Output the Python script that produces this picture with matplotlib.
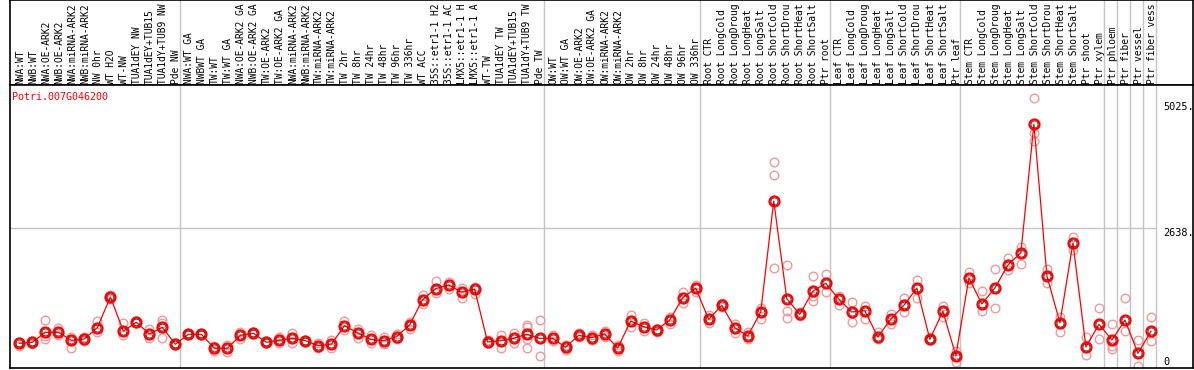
import matplotlib
matplotlib.use("Agg")
import matplotlib.pyplot as plt

gene = "Potri.007G046200"

labels = ["NWA:WT", "NWB:WT", "NWA:OE-ARK2", "NWB:OE-ARK2", "NWA:miRNA-ARK2", "NWB:miRNA-ARK2",
          "NW 0hr", "WT H2O", "WT-NW", "TUA1dEY NW", "TUA1dEY+TUB15", "TUA1dY+TUB9 NW", "Pde NW",
          "NWA:WT GA", "NWBWT GA", "TW:WT", "TW:WT GA", "NWA:OE-ARK2 GA", "NWB:OE-ARK2 GA",
          "TW:OE-ARK2", "TW:OE-ARK2 GA", "NWA:miRNA-ARK2", "NWB:miRNA-ARK2", "TW:miRNA-ARK2",
          "TW:miRNA-ARK2", "TW 2hr", "TW 8hr", "TW 24hr", "TW 48hr", "TW 96hr", "TW 336hr", "WT ACC",
          "35S::etr1-1 H2", "35S::etr1-1 AC", "LMX5::etr1-1 H", "LMX5::etr1-1 A", "WT-TW",
          "TUA1dEY TW", "TUA1dEY+TUB15", "TUA1dY+TUB9 TW", "Pde TW",
          "OW:WT", "OW:WT GA", "OW:OE-ARK2", "OW:OE-ARK2 GA", "OW:miRNA-ARK2", "OW:miRNA-ARK2",
          "OW 2hr", "OW 8hr", "OW 24hr", "OW 48hr", "OW 96hr", "OW 336hr",
          "Root CTR", "Root LongCold", "Root LongDroug", "Root LongHeat", "Root LongSalt",
          "Root ShortCold", "Root ShortDrou", "Root ShortHeat", "Root ShortSalt", "Ptr root",
          "Leaf CTR", "Leaf LongCold", "Leaf LongDroug", "Leaf LongHeat", "Leaf LongSalt",
          "Leaf ShortCold", "Leaf ShortDrou", "Leaf ShortHeat", "Leaf ShortSalt", "Ptr leaf",
          "Stem CTR", "Stem LongCold", "Stem LongDroug", "Stem LongHeat", "Stem LongSalt",
          "Stem ShortCold", "Stem ShortDrou", "Stem ShortHeat", "Stem ShortSalt", "Ptr shoot",
          "Ptr xylem", "Ptr phloem", "Ptr fiber", "Ptr vessel", "Ptr fiber vess"]

# mean expression per sample
means = [458, 477, 666, 666, 514, 539, 753, 1333, 690, 855, 633, 760, 439,
         628, 628, 363, 363, 609, 647, 477, 514, 552, 507, 412, 444, 790, 658, 533, 507, 582,
         804, 1282, 1490, 1560, 1428, 1484, 482, 507, 552, 628, 552,
         552, 382, 609, 564, 633, 369, 879, 772, 709, 898, 1320, 1498,
         911, 1176, 753, 596, 1050, 3149, 1301, 1006, 1441, 1592,
         1295, 1050, 1074, 577, 917, 1176, 1503, 533, 1063, 223,
         1692, 1201, 1503, 1938, 2171, 4599, 1730, 847, 2354, 388,
         817, 520, 898, 269, 685]

# individual replicates per sample
reps = [[482, 407], [444, 501], [893, 533, 596], [753, 609], [582, 374], [577, 501],
        [879, 677], [1377, 1301], [847, 615], [874, 836], [734, 558], [893, 836, 552], [463, 425],
        [647, 609], [647, 609], [407, 318], [425, 293], [671, 539], [662, 633], [492, 463],
        [582, 458], [658, 469], [526, 488], [458, 363], [520, 363], [885, 709], [728, 558],
        [620, 458], [582, 444], [633, 539], [866, 722], [1371, 1195], [1636, 1409], [1617, 1490],
        [1503, 1314], [1528, 1390], [511, 454], [615, 363], [652, 458], [809, 760, 533, 374],
        [893, 212],
        [620, 501], [425, 331], [652, 577], [615, 520], [690, 577], [425, 312], [993, 772],
        [847, 696], [734, 671], [949, 823], [1428, 1220], [1560, 1428],
        [993, 847], [1225, 1138], [817, 658], [677, 533], [1125, 923], [3880, 3635, 1876],
        [1938, 1068, 930], [1050, 974], [1730, 1352, 1263], [1768, 1422],
        [1358, 1182], [1239, 866], [1163, 911], [677, 533], [1006, 823], [1309, 1055],
        [1655, 1309], [548, 511], [1163, 961], [312, 98],
        [1812, 1592], [1452, 1068], [1857, 1131], [2065, 1844], [2284, 1957],
        [5091, 4429, 4283], [1857, 1592], [961, 671], [2473, 2222], [577, 236],
        [1119, 539], [817, 407, 344], [1309, 690], [520, 34], [955, 501]]

# last sample index of each group (vertical separators)
group_ends = [12, 40, 52, 62, 72, 83, 84, 85, 86, 87]
y_ticks = [5025, 2638]

mono = "DejaVu Sans Mono"
W, H = 1194, 370
fig = plt.figure(figsize=(W / 100, H / 100), dpi=100)

x0, x1 = -0.715, 90.23
ax_h = fig.add_axes([10 / W, (H - 85) / H, 1183 / W, 85 / H])
ax = fig.add_axes([10 / W, 1.7 / H, 1183 / W, 283.3 / H])

for a in (ax_h, ax):
    a.set_xlim(x0, x1)
    a.set_xticks([])
    a.set_yticks([])
    for s in a.spines.values():
        s.set_color("black")
        s.set_linewidth(1.2)
    for g in group_ends:
        a.axvline(g + 0.35, color="#c4c4c4", lw=1.0, zorder=0)

ax_h.set_ylim(0, 85)
for i, lab in enumerate(labels):
    ax_h.text(i + 0.05, 1.5, lab, rotation=90, ha="center", va="bottom",
              fontsize=6.9, family=mono)

ax.set_ylim(-15, 5342)
ax.hlines(2638, x0, 87.35, color="#c4c4c4", lw=1.0, zorder=0)

xs = list(range(len(means)))
rx = [i for i, r in enumerate(reps) for _ in r]
ry = [v for r in reps for v in r]
ax.plot(rx, ry, "o", ms=6.2, mfc="none", mec="#f09a9a", mew=1.0, zorder=2)
ax.plot(xs, means, "-", color="red", lw=0.9, zorder=3)
ax.plot(xs, means, "o", ms=7.2, mfc="none", mec="red", mew=1.6, zorder=4)
ax.plot(xs, means, "o", ms=5.0, mfc="none", mec="#300000", mew=0.45, zorder=5)

for t in y_ticks:
    ax.text(87.92, t, f"{t}.", ha="left", va="top", fontsize=7.4, family=mono)
ax.text(87.92, 110, "0", ha="left", va="center", fontsize=7.4, family=mono)

ax.text(2 / 1183, 0.958, gene, transform=ax.transAxes, ha="left", va="center",
        color="red", fontsize=7.2, family=mono)

fig.savefig("out.png", dpi=100)
